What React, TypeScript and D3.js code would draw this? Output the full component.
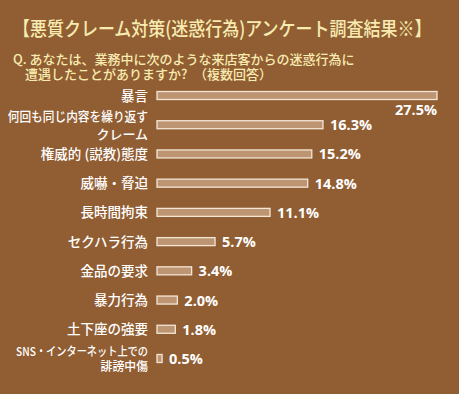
import React from 'react';
import { scaleLinear, scalePoint } from 'd3';

const width = 459;
const height = 394;

const categories = [
  '暴言',
  '何回も同じ内容を繰り返す|クレーム',
  '権威的 (説教)態度',
  '威嚇・脅迫',
  '長時間拘束',
  'セクハラ行為',
  '金品の要求',
  '暴力行為',
  '土下座の強要',
  'SNS・インターネット上での|誹謗中傷',
];
const values = [27.5, 16.3, 15.2, 14.8, 11.1, 5.7, 3.4, 2.0, 1.8, 0.5];
const valueLabels = ['27.5%', '16.3%', '15.2%', '14.8%', '11.1%', '5.7%', '3.4%', '2.0%', '1.8%', '0.5%'];

const title = '【悪質クレーム対策(迷惑行為)アンケート調査結果※】';
const question = ['Q. あなたは、業務中に次のような来店客からの迷惑行為に', '遭遇したことがありますか?　（複数回答）'];

const font = '"Noto Sans CJK JP", "Noto Sans", sans-serif';

// long label lines: [font size, horizontal squeeze] like the condensed face of the original
const lineStyle: Record<string, [number, number]> = {
  '何回も同じ内容を繰り返す': [13, 0.9],
  'クレーム': [13, 1],
  'SNS・インターネット上での': [12, 0.85],
  '誹謗中傷': [12.5, 0.95],
};

export default function App() {
  const x = scaleLinear().domain([0, 27.5]).range([157, 437]);
  const y = scalePoint<string>().domain(categories).range([95.5, 358.5]);
  const barH = 8;

  return (
    <svg
      width={width}
      height={height}
      style={{ position: 'absolute', left: 0, top: 0, background: '#915e33' }}
      fontFamily={font}
    >
      <rect width={width} height={height} fill="#915e33" />
      <g transform="translate(13,36) scale(1,1.15)">
        <text x={0} y={0} fontSize={17} fill="#f7ebb0" fontWeight={500}>{title}</text>
      </g>
      <text x={13} y={63.5} fontSize={13} fill="#f7ebb0" fontWeight={500}>{question[0]}</text>
      <text x={25} y={79} fontSize={13} fill="#f7ebb0" fontWeight={500}>{question[1]}</text>

      {categories.map((c, i) => {
        const cy = y(c) as number;
        const lines = c.split('|');
        const gap = i === categories.length - 1 ? 15 : 18;
        const v = values[i];
        const first = i === 0;
        return (
          <g key={c}>
            {lines.map((ln, j) => {
              const ly = cy + (j - (lines.length - 1) / 2) * gap + 5;
              const [fs, sx] = lineStyle[ln] ?? [13.5, 1];
              return (
                <g key={j} transform={`translate(148,${ly}) scale(${sx},1)`}>
                  <text x={0} y={0} textAnchor="end" fontSize={fs}
                    fontWeight={500} fill="#ffffff">
                    {ln}
                  </text>
                </g>
              );
            })}
            <rect x={x(0)} y={cy - barH / 2} width={x(v) - x(0)} height={barH}
              fill="#bd9572" stroke="#f3e6d6" strokeWidth={1.3} />
            <text
              x={first ? x(v) : x(v) + 7}
              y={first ? cy + 19 : cy + 5.5}
              textAnchor={first ? 'end' : 'start'}
              fontSize={14.5} fontWeight={700} fill="#ffffff"
              fontFamily='"Open Sans", "Noto Sans", sans-serif'
            >
              {valueLabels[i]}
            </text>
          </g>
        );
      })}
    </svg>
  );
}
